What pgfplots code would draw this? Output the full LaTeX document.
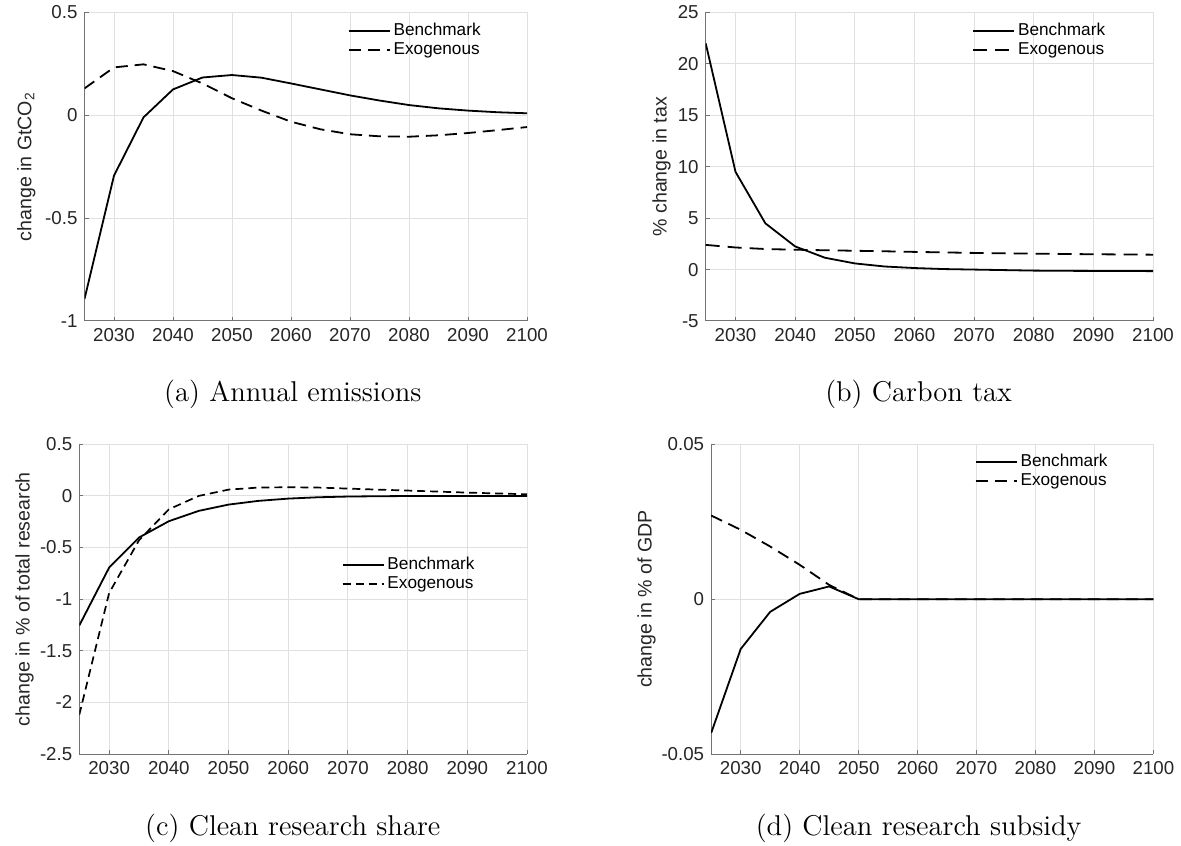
\documentclass[border=0pt]{standalone}
\usepackage{fontspec}
\usepackage{pgfplots}
\pgfplotsset{compat=1.18}
\newfontfamily\arial{Liberation Sans}
\definecolor{axgray}{gray}{0.45}
\definecolor{gridgray}{gray}{0.88}
\definecolor{txt}{gray}{0.15}

\pgfplotstableread{
year bench exog
2025 -0.893 0.131
2030 -0.293 0.233
2035 -0.010 0.248
2040 0.126 0.215
2045 0.184 0.155
2050 0.196 0.083
2055 0.183 0.023
2060 0.155 -0.031
2065 0.126 -0.068
2070 0.097 -0.092
2075 0.072 -0.102
2080 0.050 -0.104
2085 0.034 -0.097
2090 0.023 -0.086
2095 0.015 -0.072
2100 0.010 -0.057
}\tabA

\pgfplotstableread{
year bench exog
2025 22.0 2.40
2030 9.5 2.15
2035 4.5 2.00
2040 2.25 1.93
2045 1.15 1.88
2050 0.60 1.83
2055 0.30 1.78
2060 0.15 1.72
2065 0.05 1.67
2070 0.00 1.62
2075 -0.05 1.58
2080 -0.10 1.55
2085 -0.12 1.52
2090 -0.13 1.49
2095 -0.14 1.47
2100 -0.15 1.45
}\tabB

\pgfplotstableread{
year bench exog
2025 -1.255 -2.12
2030 -0.694 -0.94
2035 -0.403 -0.43
2040 -0.245 -0.13
2045 -0.145 0.000
2050 -0.084 0.061
2055 -0.048 0.081
2060 -0.026 0.084
2065 -0.013 0.081
2070 -0.006 0.071
2075 -0.003 0.061
2080 -0.001 0.052
2085 0.000 0.042
2090 0.000 0.032
2095 0.000 0.024
2100 0.000 0.016
}\tabC

\pgfplotstableread{
year bench exog
2025 -0.0432 0.0270
2030 -0.0161 0.0224
2035 -0.0041 0.0170
2040 0.0017 0.0111
2045 0.0041 0.0046
2050 0.0 0.0
2055 0.0 0.0
2060 0.0 0.0
2065 0.0 0.0
2070 0.0 0.0
2075 0.0 0.0
2080 0.0 0.0
2085 0.0 0.0
2090 0.0 0.0
2095 0.0 0.0
2100 0.0 0.0
}\tabD

\pgfplotsset{
  mystyle/.style={
    scale only axis,
    anchor=north west,
    xmin=2025, xmax=2100,
    xtick={2030,2040,...,2100},
    xticklabels={2030,2040,2050,2060,2070,2080,2090,2100},
    scaled y ticks=false,
    axis lines=left,
    axis line style={-, draw=axgray, line width=0.5pt},
    tick align=inside,
    major tick length=2pt,
    tick style={draw=axgray, line width=0.5pt},
    grid=major,
    major grid style={draw=gridgray, line width=0.5pt},
    tick label style={font=\arial\fontsize{9.35}{11}\selectfont, text=txt},
    label style={font=\arial\fontsize{9.8}{11.5}\selectfont, text=txt},
    legend style={draw=none, fill=none, inner sep=0pt,
      font=\arial\fontsize{8.6}{10}\selectfont, text=black,
      anchor=north west, legend cell align=left,
      nodes={inner ysep=0.6pt, inner xsep=1.5pt, text height=6.5pt, text depth=1.8pt}},
    legend image code/.code={\draw[##1, line width=0.95pt] (0cm,0cm) -- (0.72cm,0cm);},
  },
  bench/.style={black, line width=0.9pt},
}

\begin{document}
\begin{tikzpicture}
\path[use as bounding box] (0pt,0pt) rectangle (590.5pt,-422.5pt);

% (a)
\begin{axis}[mystyle, at={(42.25pt,-6.25pt)}, width=221.25pt, height=154.25pt,
  ymin=-1, ymax=0.5, ytick={-1,-0.5,0,0.5}, yticklabels={-1,-0.5,0,0.5},
  ylabel={change in GtCO\textsubscript{2}},
  ylabel style={at={(-0.1315,0.5)}, anchor=center},
  legend style={at={(0.594,0.9715)}}]
\addplot[bench] table[x=year,y=bench]{\tabA};
\addplot[black, line width=0.9pt, dash pattern=on 6pt off 3.5pt] table[x=year,y=exog]{\tabA};
\legend{Benchmark,Exogenous}
\end{axis}

% (b)
\begin{axis}[mystyle, at={(352.85pt,-6.25pt)}, width=223.65pt, height=154.25pt,
  ymin=-5, ymax=25, ytick={-5,0,5,10,15,20,25}, yticklabels={-5,0,5,10,15,20,25},
  ylabel={\% change in tax},
  ylabel style={at={(-0.0988,0.5)}, anchor=center},
  legend style={at={(0.595,0.9715)}}]
\addplot[bench] table[x=year,y=bench]{\tabB};
\addplot[black, line width=0.9pt, dash pattern=on 7pt off 4pt] table[x=year,y=exog]{\tabB};
\legend{Benchmark,Exogenous}
\end{axis}

% (c)
\begin{axis}[mystyle, at={(39.65pt,-222.15pt)}, width=223.85pt, height=154.85pt,
  ymin=-2.5, ymax=0.5, ytick={-2.5,-2,-1.5,-1,-0.5,0,0.5}, yticklabels={-2.5,-2,-1.5,-1,-0.5,0,0.5},
  ylabel={change in \% of total research},
  ylabel style={at={(-0.1224,0.5)}, anchor=center},
  legend style={at={(0.585,0.6426)}}]
\addplot[bench] table[x=year,y=bench]{\tabC};
\addplot[black, line width=0.85pt, dash pattern=on 4pt off 2.5pt] table[x=year,y=exog]{\tabC};
\legend{Benchmark,Exogenous}
\end{axis}

% (d)
\begin{axis}[mystyle, at={(355.6pt,-222.15pt)}, width=221.1pt, height=154.85pt,
  ymin=-0.05, ymax=0.05, ytick={-0.05,0,0.05}, yticklabels={-0.05,0,0.05},
  ylabel={change in \% of GDP},
  ylabel style={at={(-0.1463,0.5)}, anchor=center},
  legend style={at={(0.595,0.975)}}]
\addplot[black, line width=0.9pt, dash pattern=on 6pt off 3.5pt, forget plot] table[x=year,y=exog]{\tabD};
\addplot[bench] table[x=year,y=bench]{\tabD};
\addlegendimage{black, line width=0.9pt, dash pattern=on 6pt off 3.5pt}
\legend{Benchmark,Exogenous}
\end{axis}

\node[anchor=base, font=\fontsize{14.3}{17}\selectfont] at (146.4pt,-200.85pt) {(a) Annual emissions};
\node[anchor=base, font=\fontsize{14.3}{17}\selectfont] at (459.3pt,-200.85pt) {(b) Carbon tax};
\node[anchor=base, font=\fontsize{14.3}{17}\selectfont] at (146.4pt,-417.5pt) {(c) Clean research share};
\node[anchor=base, font=\fontsize{14.3}{17}\selectfont] at (459.3pt,-417.5pt) {(d) Clean research subsidy};
\end{tikzpicture}
\end{document}
